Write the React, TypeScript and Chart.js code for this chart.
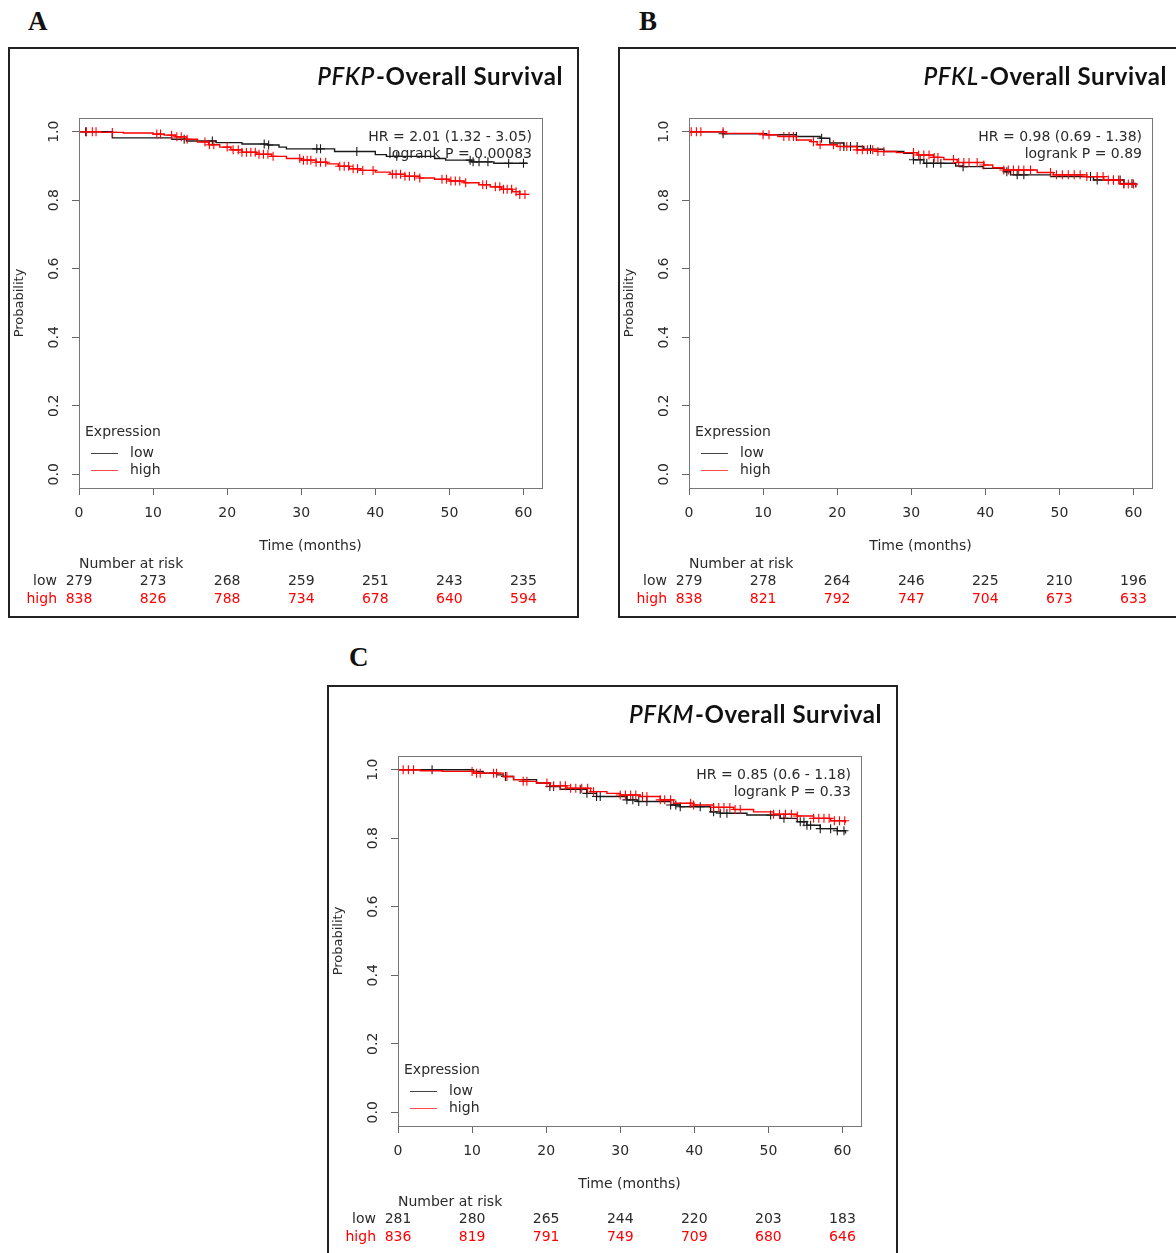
import React, { useEffect, useRef } from "react";
import { Chart, registerables } from "chart.js";
Chart.register(...registerables);

const xTicks = [0, 10, 20, 30, 40, 50, 60];
const yTicks = [0, 0.2, 0.4, 0.6, 0.8, 1.0];
const riskTimes = [0, 10, 20, 30, 40, 50, 60];

// ---------- Panel A : PFKP ----------
const lowTimesA = [0, 4.5, 12.5, 14.5, 18.5, 22, 25.5, 27, 28, 34.5, 40, 41.5, 48, 49.5, 53, 56, 60.5];
const lowSurvA = [1.0, 0.982, 0.978, 0.973, 0.968, 0.964, 0.961, 0.955, 0.95, 0.942, 0.933, 0.928, 0.922, 0.917, 0.912, 0.908, 0.908];
const lowCensA = [0.9, 14.2, 18, 25, 25.6, 32.1, 32.6, 37.5, 42.9, 52.8, 53.2, 54, 55.2, 58, 60];
const highTimesA = [0, 3, 6, 10, 11.5, 13, 14.5, 16, 17.5, 19, 20.5, 22, 24, 26, 28, 30, 32, 33.5, 35, 36.5, 38, 40, 42, 44, 46, 48, 50, 52, 54, 55.5, 57, 58.5, 59.5, 60.3];
const highSurvA = [1.0, 0.998, 0.996, 0.993, 0.99, 0.985, 0.978, 0.97, 0.962, 0.955, 0.947, 0.94, 0.934, 0.928, 0.922, 0.917, 0.911, 0.906, 0.899, 0.892, 0.887, 0.882, 0.876, 0.87, 0.865, 0.861, 0.856, 0.851, 0.845, 0.839, 0.832, 0.825, 0.817, 0.815];
const highCensA = [1, 1.8, 2.3, 4.5, 10.5, 11, 12.5, 13.2, 13.8, 14.6, 17, 17.6, 18.2, 20, 20.8, 21.5, 22, 22.6, 23.2, 23.8, 24.3, 24.9, 25.5, 26.2, 29.8, 30.3, 30.8, 31.3, 32, 32.6, 33.3, 35.2, 35.8, 36.4, 37, 37.6, 38.3, 39.7, 42.3, 42.8, 43.4, 44, 44.6, 45.3, 46, 49, 49.6, 50.2, 50.8, 51.4, 52.2, 54.5, 55, 56.2, 56.8, 57.3, 57.8, 58.4, 59, 59.5, 60.2];
const riskLowA = [279, 273, 268, 259, 251, 243, 235];
const riskHighA = [838, 826, 788, 734, 678, 640, 594];

// ---------- Panel B : PFKL ----------
const lowTimesB = [0, 4.6, 10.5, 14.5, 17.7, 19, 20.9, 23.6, 26.3, 29, 30.3, 31.7, 36, 37, 39.7, 42.5, 43.4, 48.8, 54.6, 58.7, 60.3];
const lowSurvB = [1.0, 0.994, 0.991, 0.986, 0.981, 0.967, 0.957, 0.949, 0.942, 0.937, 0.918, 0.908, 0.9, 0.898, 0.893, 0.883, 0.874, 0.869, 0.859, 0.849, 0.839];
const lowCensB = [4.6, 14.5, 17.9, 20.9, 21.8, 22.7, 24.5, 30.3, 31.2, 32.1, 33, 34, 37, 42.9, 44.3, 45.2, 54.2, 55.1, 57.3, 58.2, 58.7, 59.8];
const highTimesB = [0, 5, 10, 12, 14.5, 16.5, 17.3, 20, 22.7, 25.4, 28, 30.8, 33, 34.4, 36.2, 39.8, 41, 42.5, 47, 49.2, 53.7, 56, 58.2, 60.3];
const highSurvB = [1.0, 0.995, 0.991, 0.986, 0.976, 0.971, 0.962, 0.957, 0.947, 0.942, 0.939, 0.932, 0.925, 0.919, 0.91, 0.903, 0.895, 0.888, 0.881, 0.874, 0.869, 0.859, 0.847, 0.837];
const highCensB = [0.3, 1, 1.6, 4.6, 10, 10.8, 12.8, 13.5, 14.1, 16.8, 17.7, 19.5, 20.4, 21.3, 22.7, 23.4, 24.1, 24.8, 25.5, 26.3, 30.3, 31, 31.7, 32.4, 33.1, 33.6, 35.7, 36.4, 37.1, 37.8, 38.9, 39.8, 42.5, 43.1, 43.8, 44.5, 45.2, 46.1, 48.8, 49.6, 50.4, 51.2, 52, 52.8, 53.7, 55.1, 55.9, 56.6, 57.3, 58, 58.7, 59.3, 60];
const riskLowB = [279, 278, 264, 246, 225, 210, 196];
const riskHighB = [838, 821, 792, 747, 704, 673, 633];

// ---------- Panel C : PFKM ----------
const lowTimesC = [0, 10.2, 11.5, 13.3, 14.2, 15.6, 18.7, 20.5, 21.9, 25.5, 26.8, 30.9, 32.3, 36.8, 38.1, 42.2, 43.5, 47.1, 51.6, 53.9, 55.2, 57, 59.3, 60.4];
const lowSurvC = [1.0, 0.995, 0.99, 0.985, 0.98, 0.971, 0.961, 0.951, 0.943, 0.931, 0.922, 0.912, 0.907, 0.897, 0.892, 0.877, 0.873, 0.868, 0.858, 0.848, 0.838, 0.828, 0.822, 0.814];
const lowCensC = [4.6, 14.5, 20.5, 21, 24.6, 25.5, 26.8, 27.3, 30.9, 31.7, 32.5, 33.6, 36.8, 37.5, 38.1, 40.8, 42.6, 43.5, 44.4, 50.3, 52.1, 54.3, 54.8, 55.2, 55.7, 57, 58.4, 59.3, 60.2];
const highTimesC = [0, 3, 6, 10.2, 14.2, 15.6, 16.9, 18.7, 20.5, 22.8, 26, 28.2, 30, 32.7, 35.4, 37.2, 39.9, 42.6, 45.3, 48, 50.7, 53.9, 56.1, 58.4, 60.4];
const highSurvC = [1.0, 0.997, 0.995, 0.99, 0.98, 0.971, 0.966, 0.961, 0.953, 0.946, 0.936, 0.931, 0.926, 0.922, 0.912, 0.902, 0.897, 0.89, 0.884, 0.877, 0.87, 0.865, 0.858, 0.851, 0.845];
const highCensC = [0.7, 1.4, 2.1, 10, 10.6, 11.1, 12.9, 13.3, 14.7, 16.9, 17.4, 20.1, 21, 21.9, 22.6, 23.3, 24, 24.8, 25.6, 26.4, 30, 30.7, 31.4, 32.1, 33, 33.6, 35.4, 36, 36.8, 39.5, 39.9, 42.6, 43.3, 44, 44.8, 45.5, 46.2, 50.7, 51.5, 52.3, 53.1, 53.9, 56.1, 56.8, 57.5, 58.2, 58.9, 59.6, 60.3];
const riskLowC = [281, 280, 265, 244, 220, 203, 183];
const riskHighC = [836, 819, 791, 749, 709, 680, 646];

const FONT = "'DejaVu Sans', sans-serif";
const LOW_COLOR = "#1a1a1a";
const HIGH_COLOR = "#ff0000";
const TEXT_COLOR = "#2a2a2a";

type PanelCfg = {
  gene: string;
  hr: string;
  pval: string;
  lowTimes: number[];
  lowSurv: number[];
  lowCens: number[];
  highTimes: number[];
  highSurv: number[];
  highCens: number[];
  riskLow: number[];
  riskHigh: number[];
  titleRight: number;
};

function survAt(times: number[], surv: number[], t: number) {
  let v = surv[0];
  for (let i = 0; i < times.length; i++) {
    if (times[i] <= t) v = surv[i];
  }
  return v;
}

function makeOverlay(cfg: PanelCfg) {
  return {
    id: "overlay",
    afterDraw(chart: any) {
      const ctx = chart.ctx as CanvasRenderingContext2D;
      const a = chart.chartArea;
      const xs = chart.scales.x;
      ctx.save();
      // plot box
      ctx.strokeStyle = "#777";
      ctx.lineWidth = 1;
      ctx.strokeRect(Math.round(a.left) + 0.5, Math.round(a.top) + 0.5, Math.round(a.right - a.left), Math.round(a.bottom - a.top));

      // HR text
      ctx.fillStyle = TEXT_COLOR;
      ctx.font = `14px ${FONT}`;
      ctx.textAlign = "right";
      ctx.textBaseline = "middle";
      ctx.fillText(cfg.hr, 524, 90);
      ctx.fillText(cfg.pval, 524, 107);

      // legend
      ctx.textAlign = "left";
      ctx.fillText("Expression", 77, 385);
      ctx.fillText("low", 122, 406);
      ctx.fillText("high", 122, 423);
      ctx.lineWidth = 1;
      ctx.strokeStyle = "#444";
      ctx.beginPath();
      ctx.moveTo(83, 406.5);
      ctx.lineTo(110, 406.5);
      ctx.stroke();
      ctx.strokeStyle = "#ff4d4d";
      ctx.beginPath();
      ctx.moveTo(83, 423.5);
      ctx.lineTo(110, 423.5);
      ctx.stroke();

      // title
      ctx.fillStyle = "#111";
      ctx.textBaseline = "middle";
      ctx.textAlign = "right";
      (ctx as any).letterSpacing = "0.6px";
      ctx.font = `bold 24px Lato, 'Open Sans', sans-serif`;
      const rest = "-Overall Survival";
      ctx.fillText(rest, cfg.titleRight, 30);
      const w = ctx.measureText(rest).width;
      ctx.font = `italic 600 24px Lato, 'Open Sans', sans-serif`;
      ctx.fillText(cfg.gene, cfg.titleRight - w - 1, 30);
      (ctx as any).letterSpacing = "0px";

      // number at risk table
      ctx.font = `14px ${FONT}`;
      ctx.fillStyle = TEXT_COLOR;
      ctx.textAlign = "left";
      ctx.fillText("Number at risk", 71, 517);
      ctx.textAlign = "right";
      ctx.fillText("low", 49, 534);
      ctx.fillStyle = HIGH_COLOR;
      ctx.fillText("high", 49, 552);
      ctx.textAlign = "center";
      riskTimes.forEach((t, i) => {
        const px = xs.getPixelForValue(t);
        ctx.fillStyle = TEXT_COLOR;
        ctx.fillText(String(cfg.riskLow[i]), px, 534);
        ctx.fillStyle = HIGH_COLOR;
        ctx.fillText(String(cfg.riskHigh[i]), px, 552);
      });
      ctx.restore();
    },
  };
}

function Panel({ cfg, left, top }: { cfg: PanelCfg; left: number; top: number }) {
  const ref = useRef<HTMLCanvasElement | null>(null);
  useEffect(() => {
    if (!ref.current) return;
    const lowLine = cfg.lowTimes.map((t, i) => ({ x: t, y: cfg.lowSurv[i] }));
    const highLine = cfg.highTimes.map((t, i) => ({ x: t, y: cfg.highSurv[i] }));
    const lowMarks = cfg.lowCens.map((t) => ({ x: t, y: survAt(cfg.lowTimes, cfg.lowSurv, t) }));
    const highMarks = cfg.highCens.map((t) => ({ x: t, y: survAt(cfg.highTimes, cfg.highSurv, t) }));
    const tickFont = { family: FONT, size: 14 };
    const chart = new Chart(ref.current, {
      type: "line",
      data: {
        datasets: [
          { label: "high", data: highLine, borderColor: HIGH_COLOR, borderWidth: 1.4, stepped: "before", pointRadius: 0, fill: false },
          { label: "highC", type: "scatter", data: highMarks, borderColor: HIGH_COLOR, backgroundColor: HIGH_COLOR, pointStyle: "cross", pointRadius: 4.5, borderWidth: 1.1, showLine: false } as any,
          { label: "low", data: lowLine, borderColor: LOW_COLOR, borderWidth: 1.4, stepped: "before", pointRadius: 0, fill: false },
          { label: "lowC", type: "scatter", data: lowMarks, borderColor: LOW_COLOR, backgroundColor: LOW_COLOR, pointStyle: "cross", pointRadius: 4.5, borderWidth: 1.1, showLine: false } as any,
        ],
      },
      options: {
        animation: false,
        responsive: false,
        maintainAspectRatio: false,
        layout: { padding: { left: 0, top: 71, right: 36, bottom: 0 } },
        plugins: { legend: { display: false }, tooltip: { enabled: false } },
        scales: {
          x: {
            type: "linear",
            min: 0,
            max: 62.5,
            afterBuildTicks: (s: any) => {
              s.ticks = xTicks.map((v) => ({ value: v }));
            },
            afterFit: (s: any) => {
              s.height = 129;
            },
            grid: { drawOnChartArea: false, drawTicks: true, tickLength: 7, color: "#666" },
            border: { display: false },
            ticks: { padding: 10, color: TEXT_COLOR, font: tickFont, maxRotation: 0, autoSkip: false, callback: (v: any) => String(v) },
            title: { display: true, text: "Time (months)", color: TEXT_COLOR, font: tickFont, padding: { top: 0, bottom: 62 } },
          },
          y: {
            type: "linear",
            min: -0.04,
            max: 1.04,
            afterBuildTicks: (s: any) => {
              s.ticks = yTicks.map((v) => ({ value: v }));
            },
            afterFit: (s: any) => {
              s.width = 71;
            },
            grid: { drawOnChartArea: false, drawTicks: true, tickLength: 7, color: "#666" },
            border: { display: false },
            ticks: { padding: 7, color: TEXT_COLOR, font: tickFont, minRotation: 90, maxRotation: 90, crossAlign: "center", autoSkip: false, callback: (v: any) => Number(v).toFixed(1) },
            title: { display: true, text: "Probability", color: TEXT_COLOR, font: { family: FONT, size: 13 }, padding: { top: 4, bottom: 0 } },
          },
        },
      } as any,
      plugins: [makeOverlay(cfg)],
    });
    return () => chart.destroy();
  }, [cfg]);
  return (
    <>
      <div
        style={{
          position: "absolute",
          left,
          top,
          width: 571,
          height: 571,
          boxSizing: "border-box",
          border: "2px solid #222",
        }}
      />
      <canvas
        ref={ref}
        width={570}
        height={570}
        style={{ position: "absolute", left, top, width: 570, height: 570 }}
      />
    </>
  );
}

const panelA: PanelCfg = {
  gene: "PFKP", hr: "HR = 2.01 (1.32 - 3.05)", pval: "logrank P = 0.00083",
  lowTimes: lowTimesA, lowSurv: lowSurvA, lowCens: lowCensA,
  highTimes: highTimesA, highSurv: highSurvA, highCens: highCensA,
  riskLow: riskLowA, riskHigh: riskHighA, titleRight: 555,
};
const panelB: PanelCfg = {
  gene: "PFKL", hr: "HR = 0.98 (0.69 - 1.38)", pval: "logrank P = 0.89",
  lowTimes: lowTimesB, lowSurv: lowSurvB, lowCens: lowCensB,
  highTimes: highTimesB, highSurv: highSurvB, highCens: highCensB,
  riskLow: riskLowB, riskHigh: riskHighB, titleRight: 549,
};
const panelC: PanelCfg = {
  gene: "PFKM", hr: "HR = 0.85 (0.6 - 1.18)", pval: "logrank P = 0.33",
  lowTimes: lowTimesC, lowSurv: lowSurvC, lowCens: lowCensC,
  highTimes: highTimesC, highSurv: highSurvC, highCens: highCensC,
  riskLow: riskLowC, riskHigh: riskHighC, titleRight: 555,
};

const labelStyle: React.CSSProperties = {
  position: "absolute",
  fontFamily: "'Liberation Serif', 'Times New Roman', serif",
  fontWeight: "bold",
  fontSize: 27,
  lineHeight: "30px",
  color: "#111",
};

export default function App() {
  return (
    <div
      style={{
        position: "absolute",
        left: 0,
        top: 0,
        width: 1176,
        height: 1253,
        overflow: "hidden",
        background: "#fff",
      }}
    >
      <div style={{ ...labelStyle, left: 28, top: 6 }}>A</div>
      <div style={{ ...labelStyle, left: 639, top: 6 }}>B</div>
      <div style={{ ...labelStyle, left: 349, top: 642 }}>C</div>
      <Panel cfg={panelA} left={8} top={47} />
      <Panel cfg={panelB} left={618} top={47} />
      <Panel cfg={panelC} left={327} top={685} />
    </div>
  );
}
